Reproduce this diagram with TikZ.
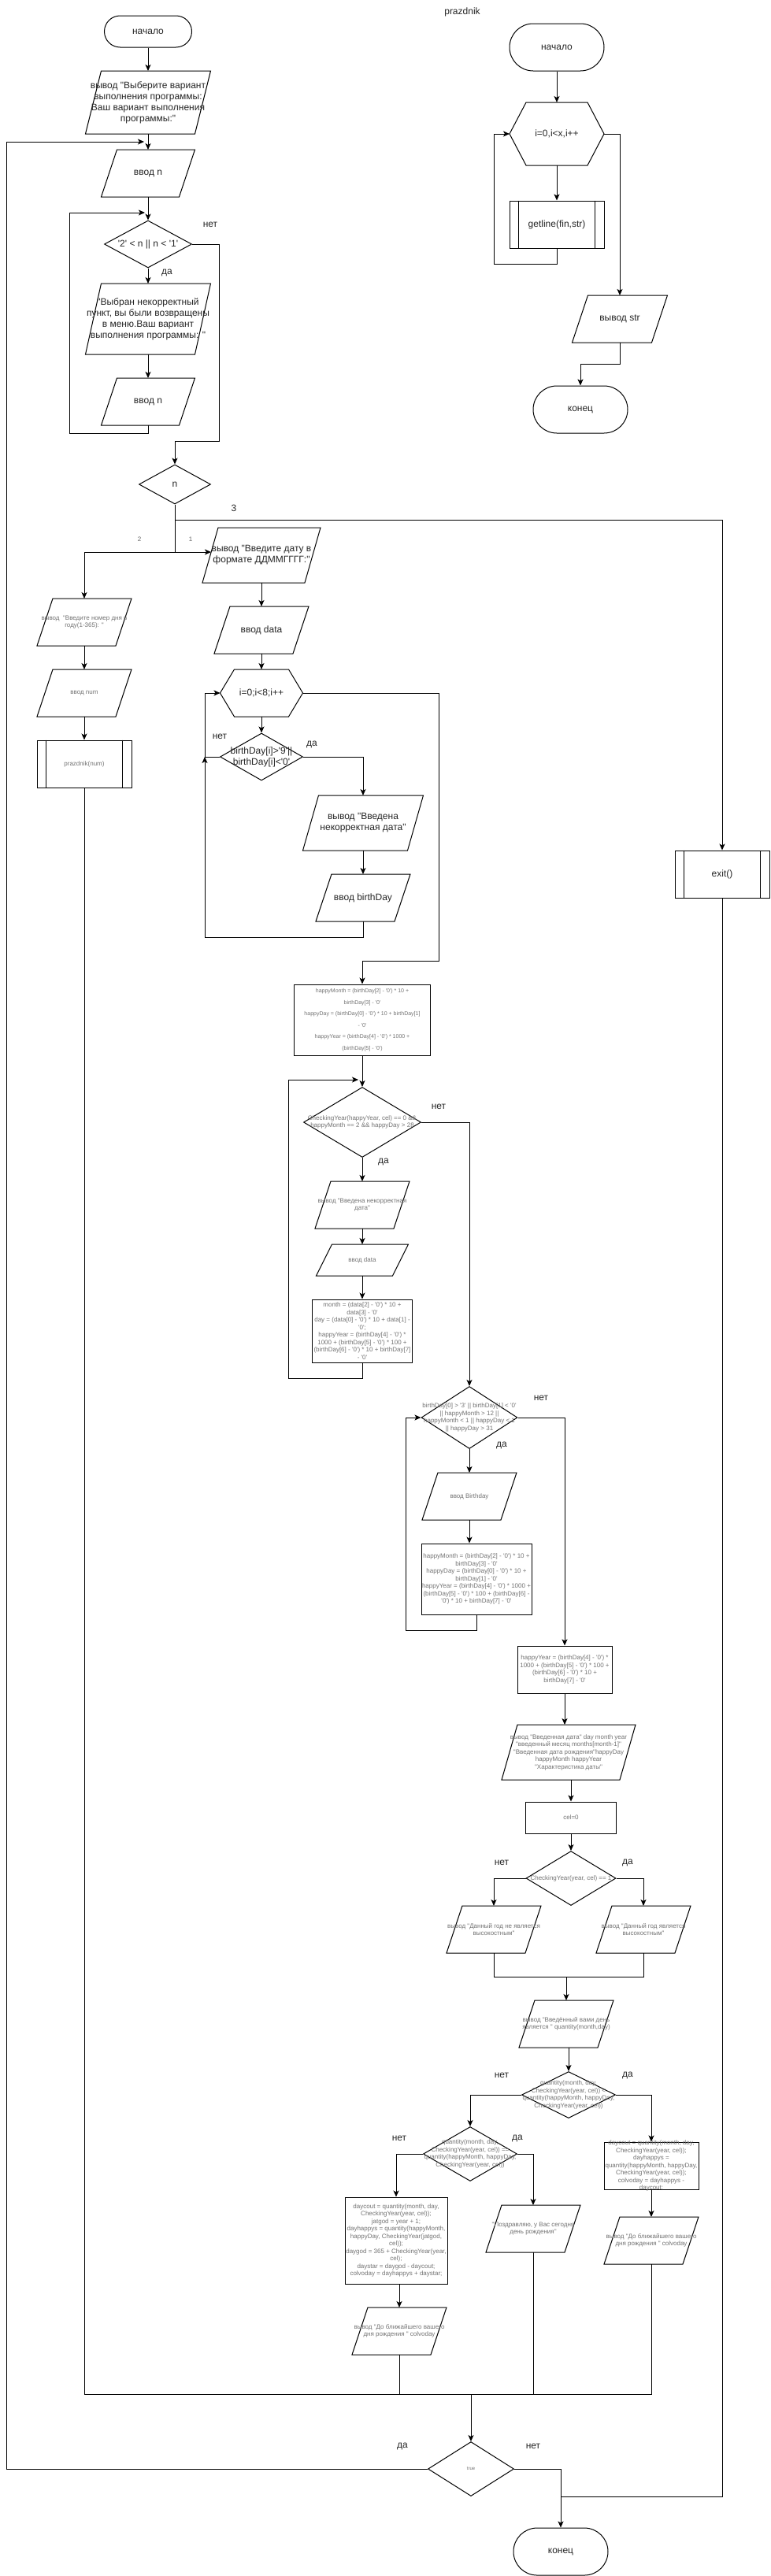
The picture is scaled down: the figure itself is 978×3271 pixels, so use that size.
\documentclass[tikz,border=0pt]{standalone}
\usepackage{fontspec}
\setmainfont{Liberation Sans}
\newfontfamily\lsf{Liberation Sans}
\usetikzlibrary{shapes.geometric,shapes.misc,arrows.meta,calc}

\tikzset{
 big/.style={font=\lsf\fontsize{12}{14}\selectfont, text=black!85},
 sm/.style={font=\lsf\fontsize{8}{9.5}\selectfont, text=black!55},
 smb/.style={font=\lsf\fontsize{7}{14.5}\selectfont, text=black!55},
 smt/.style={font=\lsf\fontsize{6}{7}\selectfont, text=black!55},
 lsm/.style={font=\lsf\fontsize{8}{9}\selectfont, text=black!60, inner sep=0pt},
 txt/.style={align=center, inner sep=0pt},
 boxs/.style={draw, rectangle, inner sep=0pt},
 dia/.style={draw, diamond, inner sep=0pt},
 term/.style={draw, rounded rectangle, inner sep=0pt},
 arr/.style={-{Stealth[length=8pt,width=7pt,inset=2pt]}},
 lbl/.style={big, inner sep=0pt},
}

\newcommand\pgram[7]{%
  \draw ({#2-#4/2},{#3+#5/2}) -- ({#2+#4/2-20},{#3+#5/2}) -- ({#2+#4/2},{#3-#5/2}) -- ({#2-#4/2+20},{#3-#5/2}) -- cycle;
  \node[txt,#6] (#1) at (#2,#3) {#7};
  \coordinate (#1-n) at (#2,{#3-#5/2});
  \coordinate (#1-s) at (#2,{#3+#5/2});
}
\newcommand\hexa[7]{%
  \draw ({#2-#4/2},#3) -- ({#2-#4/2+#6},{#3-#5/2}) -- ({#2+#4/2-#6},{#3-#5/2}) -- ({#2+#4/2},#3) -- ({#2+#4/2-#6},{#3+#5/2}) -- ({#2-#4/2+#6},{#3+#5/2}) -- cycle;
  \node[txt,big] (#1) at (#2,#3) {#7};
  \coordinate (#1-n) at (#2,{#3-#5/2});
  \coordinate (#1-s) at (#2,{#3+#5/2});
  \coordinate (#1-w) at ({#2-#4/2},#3);
  \coordinate (#1-e) at ({#2+#4/2},#3);
}
\newcommand\subp[7]{%
  \node[boxs,minimum width=#4,minimum height=#5] (#1) at (#2,#3) {};
  \draw ($(#1.north west)+(12,0)$) -- ($(#1.south west)+(12,0)$);
  \draw ($(#1.north east)+(-12,0)$) -- ($(#1.south east)+(-12,0)$);
  \node[txt,#6] (#1-t) at (#1) {#7};
}
\newcommand\rbox[7]{%
  \node[boxs,minimum width=#4,minimum height=#5] (#1) at (#2,#3) {};
  \node[txt,#6] (#1-t) at (#1) {#7};
}
\newcommand\dmd[7]{%
  \node[dia,minimum width=#4,minimum height=#5] (#1) at (#2,#3) {};
  \node[txt,#6] (#1-t) at (#1) {#7};
}
\newcommand\trm[6]{%
  \node[term,minimum width=#4,minimum height=#5] (#1) at (#2,#3) {};
  \node[txt,big] (#1-t) at (#1) {#6};
}

\begin{document}
\begin{tikzpicture}[x=1pt,y=-1pt,line width=1pt]
\useasboundingbox (0,0) rectangle (978,3271);
\fill[white] (0,0) rectangle (978,3271);

% ---------- main: top ----------
\trm{t1}{188}{40}{111}{40}{начало}
\pgram{p1}{188}{130}{159}{80}{big}{вывод "Выберите вариант\\выполнения программы:\\Ваш вариант выполнения\\программы:"}
\pgram{p2}{188}{220}{119}{60}{big}{ввод n}
\dmd{d1}{188}{310}{111}{60}{big}{'2' < n || n < '1'}
\pgram{p3}{188}{405}{159}{90}{big}{"Выбран некорректный\\пункт, вы были возвращены\\в меню.Ваш вариант\\выполнения программы: "}
\pgram{p4}{188}{510}{119}{60}{big}{ввод n}
\coordinate (jin) at (183,180);
\coordinate (jl1) at (184,270);
\draw[arr] (t1.south) -- (p1-n);
\draw[arr] (p1-s) -- (p2-n);
\draw[arr] (p2-s) -- (d1.north);
\draw[arr] (d1.south) -- (p3-n);
\draw[arr] (p3-s) -- (p4-n);
\draw[arr] (p4-s) -- (188,550) -- (88,550) -- (88,270) -- (jl1);
\node[lbl] (l1) at (267,285) {нет};
\node[lbl] (l2) at (212,346) {да};

\dmd{nd}{222}{615}{91}{50}{big}{n}
\draw[arr] (d1.east) -- (278,310) -- (278,560) -| (nd.north);

% ---------- branches ----------
\coordinate (br3) at (222,660);
\coordinate (br2) at (222,701);
\coordinate (p6w) at (268,701);
\draw (nd.south) -- (br2);
\subp{ex}{917}{1110}{120}{60}{big}{exit()}
\draw[arr] (br3) -| (ex.north);
\node[lbl] (l3) at (297,645) {3};
\node[lsm] (l4) at (177,685) {2};
\node[lsm] (l5) at (242,685) {1};

\pgram{p5}{107}{790}{120}{60}{sm}{вывод~~"Введите номер дня в\\году(1-365): "}
\draw[arr] (br2) -| (p5-n);
\pgram{p6}{332}{705}{150}{70}{big}{вывод "Введите дату в\\формате ДДММГГГГ:"}
\draw[arr] (br2) -- (p6w);
\pgram{p5b}{107}{880}{120}{60}{sm}{ввод num}
\subp{s1}{107}{970}{120}{60}{sm}{prazdnik(num)}
\draw[arr] (p5-s) -- (p5b-n);
\draw[arr] (p5b-s) -- (s1.north);

% ---------- date input loop ----------
\pgram{p7}{332}{800}{120}{60}{big}{ввод data}
\hexa{h1}{332}{880}{105}{60}{18}{i=0;i<8;i++}
\dmd{d2}{332}{961}{105}{60}{big}{birthDay[i]>'9'||\\birthDay[i]<'0'}
\draw[arr] (p6-s) -- (p7-n);
\draw[arr] (p7-s) -- (h1-n);
\draw[arr] (h1-s) -- (d2.north);
\pgram{p8}{461}{1045}{153}{70}{big}{вывод "Введена\\некорректная дата"}
\pgram{p9}{461}{1140}{120}{60}{big}{ввод birthDay}
\draw[arr] (d2.east) -| (p8-n);
\draw[arr] (p8-s) -- (p9-n);
\coordinate (lp1) at (260,961);
\draw[arr] (p9-s) -- (461,1190) -- (260,1190) -- (lp1);
\draw[arr] (lp1) |- (h1-w);
\draw (d2.west) -- (lp1);
\node[lbl] (l6) at (279,935) {нет};
\node[lbl] (l7) at (396,945) {да};

\rbox{b1}{460}{1295}{173}{90}{smb}{happyMonth = (birthDay[2] - '0') * 10 +\\birthDay[3] - '0'\\happyDay = (birthDay[0] - '0') * 10 + birthDay[1]\\- '0'\\happyYear = (birthDay[4] - '0') * 1000 +\\(birthDay[5] - '0')}
\draw[arr] (h1-e) -- (557,880) -- (557,1220) -| (b1.north);

% ---------- february check ----------
\dmd{d3}{460}{1425}{149}{89}{sm}{CheckingYear(happyYear, cel) == 0 \&\&\\happyMonth == 2 \&\& happyDay > 28}
\draw[arr] (b1.south) -- (d3.north);
\pgram{p10}{460}{1530}{120}{60}{sm}{вывод "Введена некорректная\\дата"}
\pgram{p11}{460}{1600}{117}{40}{sm}{ввод data}
\rbox{b2}{460}{1690}{127}{80}{sm}{month = (data[2] - '0') * 10 +\\data[3] - '0'\\day = (data[0] - '0') * 10 + data[1] -\\'0';\\happyYear = (birthDay[4] - '0') *\\1000 + (birthDay[5] - '0') * 100 +\\(birthDay[6] - '0') * 10 + birthDay[7]\\- '0'}
\draw[arr] (d3.south) -- (p10-n);
\draw[arr] (p10-s) -- (p11-n);
\draw[arr] (p11-s) -- (b2.north);
\coordinate (jl2) at (455,1371);
\draw[arr] (b2.south) -- (460,1750) -- (366,1750) -- (366,1371) -- (jl2);
\node[lbl] (l8) at (557,1405) {нет};
\node[lbl] (l9) at (487,1475) {да};

% ---------- validity check ----------
\dmd{d4}{596}{1800}{122}{79}{sm}{birthDay[0] > '3' || birthDay[1] < '0'\\|| happyMonth > 12 ||\\happyMonth < 1 || happyDay < 1\\|| happyDay > 31}
\draw[arr] (d3.east) -| (d4.north);
\pgram{p12}{596}{1900}{120}{60}{sm}{ввод Birthday}
\rbox{b3}{605}{2005}{140}{90}{sm}{happyMonth = (birthDay[2] - '0') * 10 +\\birthDay[3] - '0'\\happyDay = (birthDay[0] - '0') * 10 +\\birthDay[1] - '0'\\happyYear = (birthDay[4] - '0') * 1000 +\\(birthDay[5] - '0') * 100 + (birthDay[6] -\\'0') * 10 + birthDay[7] - '0'}
\draw[arr] (d4.south) -- (p12-n);
\draw[arr] (p12-s) -- (p12-s |- b3.north);
\draw[arr] (b3.south) -- (605,2070) -- (515,2070) |- (d4.west);
\node[lbl] (l10) at (687,1775) {нет};
\node[lbl] (l11) at (637,1835) {да};

\rbox{b4}{717}{2120}{120}{60}{sm}{happyYear = (birthDay[4] - '0') *\\1000 + (birthDay[5] - '0') * 100 +\\(birthDay[6] - '0') * 10 +\\birthDay[7] - '0'}
\draw[arr] (d4.east) -| (b4.north);
\pgram{p13}{722}{2225}{170}{70}{sm}{вывод "Введенная дата" day month year\\"введенный месяц months[month-1]"\\"Введенная дата рождения"happyDay\\happyMonth happyYear\\"Характеристика даты"}
\draw[arr] (b4.south) -- (b4.south |- p13-n);
\rbox{c1}{725}{2308}{115}{40}{sm}{cel=0}
\draw[arr] (p13-s -| c1.north) -- (c1.north);
\dmd{d5}{725}{2385}{114}{69}{sm}{CheckingYear(year, cel) == 1}
\draw[arr] (c1.south) -- (d5.north);
\node[lbl] (l12) at (637,2365) {нет};
\node[lbl] (l13) at (797,2365) {да};

\pgram{p14}{627}{2450}{120}{60}{sm}{вывод "Данный год не является\\высокостным"}
\pgram{p15}{817}{2450}{120}{60}{sm}{вывод "Данный год является\\высокостным"}
\draw[arr] (d5.west) -| (p14-n);
\draw[arr] (d5.east) -| (p15-n);
\coordinate (jm1) at (719,2510);
\draw (p14-s) |- (jm1) -| (p15-s);
\pgram{p16}{719}{2570}{120}{60}{sm}{вывод "Введённый вами день\\является " quantity(month,day)}
\draw[arr] (jm1) -- (p16-n);

% ---------- date comparison ----------
\dmd{d6}{722}{2660}{119}{59}{sm}{quantity(month, day,\\CheckingYear(year, cel)) <\\quantity(happyMonth, happyDay,\\CheckingYear(year, cel))}
\draw[arr] (p16-s -| d6.north) -- (d6.north);
\node[lbl] (l14) at (637,2635) {нет};
\node[lbl] (l15) at (797,2635) {да};
\dmd{d7}{597}{2735}{119}{69}{sm}{quantity(month, day,\\CheckingYear(year, cel)) ==\\quantity(happyMonth, happyDay,\\CheckingYear(year, cel))}
\rbox{b6}{827}{2750}{120}{60}{sm}{daycout = quantity(month, day,\\CheckingYear(year, cel));\\dayhappys =\\quantity(happyMonth, happyDay,\\CheckingYear(year, cel));\\colvoday = dayhappys -\\daycout;}
\draw[arr] (d6.west) -| (d7.north);
\draw[arr] (d6.east) -| (b6.north);
\node[lbl] (l16) at (507,2715) {нет};
\node[lbl] (l17) at (657,2715) {да};
\rbox{b5}{503}{2845}{130}{110}{sm}{daycout = quantity(month, day,\\CheckingYear(year, cel));\\jatgod = year + 1;\\dayhappys = quantity(happyMonth,\\happyDay, CheckingYear(jatgod,\\cel));\\daygod = 365 + CheckingYear(year,\\cel);\\daystar = daygod - daycout;\\colvoday = dayhappys + daystar;}
\pgram{p17}{677}{2830}{120}{60}{sm}{"Поздравляю, у Вас сегодня\\день рождения"}
\draw[arr] (d7.west) -| (b5.north);
\draw[arr] (d7.east) -| (p17-n);
\pgram{p18}{507}{2960}{120}{60}{sm}{вывод "До ближайшего вашего\\дня рождения " colvoday}
\draw[arr] (b5.south -| p18-n) -- (p18-n);
\pgram{p19}{827}{2845}{120}{60}{sm}{вывод "До ближайшего вашего\\дня рождения " colvoday}
\draw[arr] (b6.south) -- (p19-n);

% ---------- merge and repeat ----------
\coordinate (mg) at (598,3040);
\draw (s1.south) |- (mg);
\draw (p18-s) |- (mg);
\draw (p17-s) |- (mg);
\draw (p19-s) |- (mg);
\dmd{d8}{598}{3135}{109}{69}{smt}{true}
\draw[arr] (mg) -- (d8.north);
\draw[arr] (d8.west) -- (8,3135) -- (8,180) -- (jin);
\node[lbl] (l18) at (511,3106) {да};
\node[lbl] (l19) at (677,3106) {нет};
\trm{t4}{712}{3240}{120}{60}{конец}
\draw[arr] (d8.east) -| (t4.north);
\coordinate (jx) at (712,3170);
\draw (ex.south) |- (jx);

% ---------- prazdnik subroutine ----------
\node[big,txt] (ttl) at (587,15) {prazdnik};
\trm{t2}{707}{60}{120}{60}{начало}
\hexa{h2}{707}{170}{120}{80}{21}{i=0,i<x,i++}
\subp{s2}{707}{285}{120}{60}{big}{getline(fin,str)}
\pgram{p20}{787}{405}{121}{60}{big}{вывод str}
\trm{t3}{737}{520}{120}{60}{конец}
\draw[arr] (t2.south) -- (h2-n);
\draw[arr] (h2-s) -- (s2.north);
\draw[arr] (s2.south) -- (707,335) -- (627,335) |- (h2-w);
\draw[arr] (h2-e) -| (p20-n);
\draw[arr] (p20-s) -- (787,462) -| (t3.north);
\end{tikzpicture}
\end{document}
